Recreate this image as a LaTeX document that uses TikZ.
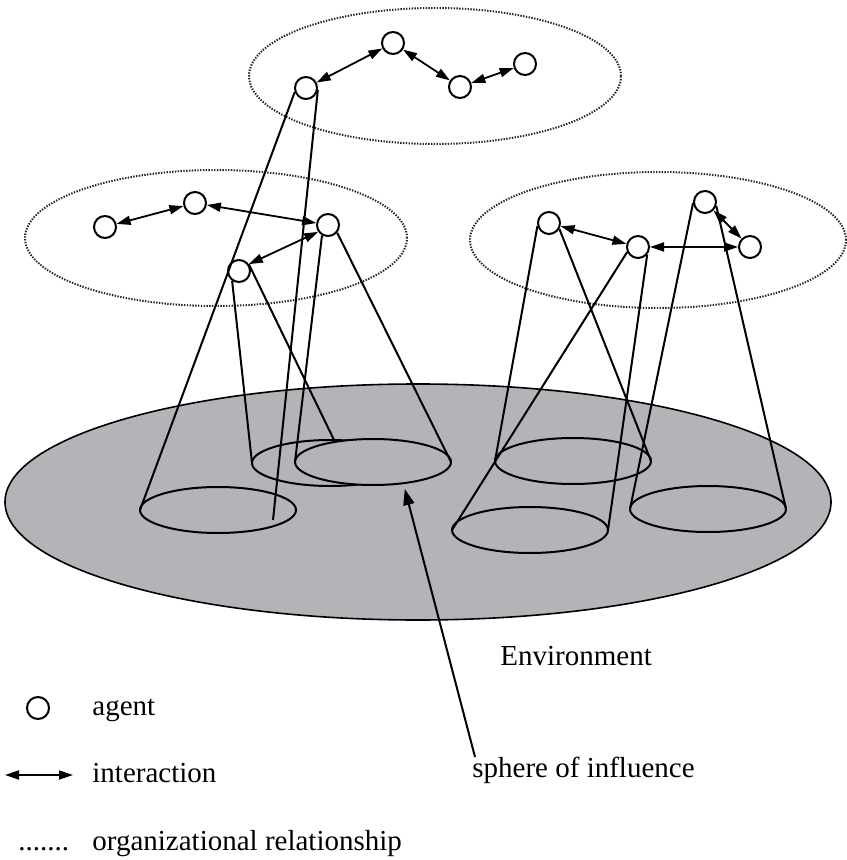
\documentclass[tikz,border=0pt]{standalone}
\usepackage{fontspec}
\setmainfont{Liberation Serif}
\usepackage{tikz}
\usetikzlibrary{arrows.meta,shapes.geometric}
\definecolor{envgray}{RGB}{180,179,184}
\tikzstyle{agent}=[circle,draw,fill=white,line width=1pt,minimum size=11pt,inner sep=0pt]
\tikzstyle{spherebase}=[ellipse,draw,fill=envgray,line width=1pt,minimum width=78pt,minimum height=23pt,inner sep=0pt,outer sep=0pt]
\tikzstyle{orgring}=[ellipse,draw=black!85,line width=1pt,dash pattern=on 0.7pt off 0.7pt,minimum height=68pt,inner sep=0pt]
\tikzstyle{interaction}=[draw,line width=0.9pt,{Triangle[length=7pt,width=4.5pt]}-{Triangle[length=7pt,width=4.5pt]}]
\tikzstyle{cone}=[draw,line width=1pt]
\tikzstyle{legendtext}=[anchor=base west,inner sep=0pt,font=\fontsize{14.5}{17}\selectfont]

\begin{document}
\begin{tikzpicture}[x=0.5pt,y=-0.5pt]
    \useasboundingbox (0,0) rectangle (846,860);

    % the environment
    \node[ellipse,draw,fill=envgray,line width=0.8pt,minimum width=413pt,minimum height=118pt,inner sep=0pt] (env) at (418,502) {};

    % organizations
    \node[orgring,minimum width=186pt] (orgtop) at (435,76) {};
    \node[orgring,minimum width=191pt] (orgleft) at (216,238) {};
    \node[orgring,minimum width=188pt] (orgright) at (658,240) {};

    % spheres of influence on the environment
    \foreach \pos/\name in {{(218,510)/E1}, {(330,463)/E2}, {(373,462)/E3}, {(573,461)/E4}, {(530,530)/E5}, {(708,509)/E6}}
        \node[spherebase] (\name) at \pos {};
    \coordinate (a1foot) at (273,520);

    % agents
    \foreach \pos/\name in {{(306,88)/A1}, {(393,43)/A2}, {(460,87)/A3}, {(525,64)/A4},
                            {(105,227)/B1}, {(195,203)/B2}, {(328,225)/B3}, {(239,271)/B4},
                            {(549,223)/C1}, {(638,247)/C2}, {(705,202)/C3}, {(750,247)/C4}}
        \node[agent] (\name) at \pos {};

    % cones from the agents down to their spheres
    \foreach \source/\dest in {A1.200/E1.west, A1.350/a1foot, B4.235/E2.west, B4.35/E2.80,
                               B3.240/E3.west, B3.320/E3.east, C1.195/E4.west, C1.330/E4.east,
                               C2.205/E5.west, C2.320/E5.east, C3.185/E6.west, C3.340/E6.east}
        \path[cone] (\source) -- (\dest);

    % interactions
    \foreach \source/\dest in {A1/A2, A2/A3, A3/A4, B1/B2, B2/B3, B4.35/B3.215, C1/C2, C2/C4, C3/C4}
        \path[interaction] (\source) -- (\dest);

    % texts
    \node[legendtext] (envtxt) at (500,665) {Environment};
    \node[legendtext] (sphtxt) at (472,777) {sphere of influence};
    \coordinate (sphfoot) at (475,757);
    \draw[line width=1pt,-{Triangle[length=8pt,width=5.5pt]},shorten >=3pt] (sphfoot) -- (E3.325);

    % legend
    \node[agent] (legagent) at (38,708) {};
    \node[legendtext] (legagenttxt) at (92,715) {agent};
    \coordinate (legL) at (5,775);
    \coordinate (legR) at (73,775);
    \path[interaction] (legL) -- (legR);
    \node[legendtext] (leginttxt) at (92,782) {interaction};
    \node[legendtext] (legdots) at (18,850) {.......};
    \node[legendtext] (legorgtxt) at (92,850) {organizational relationship};
\end{tikzpicture}
\end{document}
